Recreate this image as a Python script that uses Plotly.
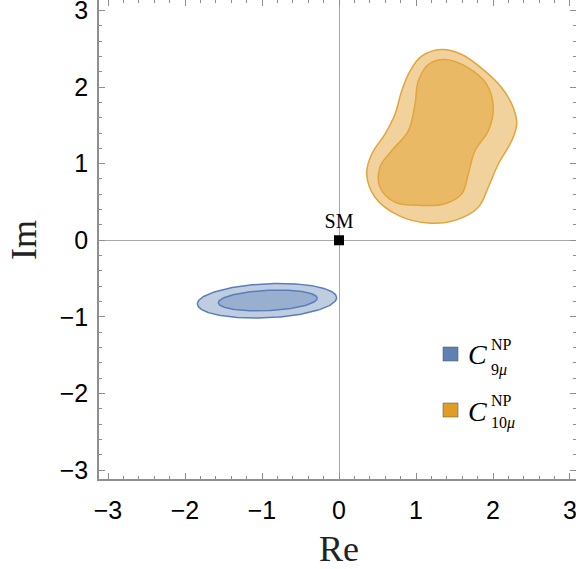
import numpy as np
import plotly.graph_objects as go

# ---- data ----
# C10mu: outer (lighter) and inner (darker) contour boundary points
c10_outer_re = [1.334, 1.594, 1.896, 2.113, 2.264, 2.308, 2.243, 2.069, 1.939, 1.809,
                1.506, 1.160, 0.770, 0.468, 0.360, 0.425, 0.597, 0.727, 0.814, 0.922, 1.074]
c10_outer_im = [2.490, 2.425, 2.208, 1.991, 1.731, 1.516, 1.299, 0.996, 0.692, 0.432,
                0.260, 0.225, 0.325, 0.562, 0.866, 1.126, 1.386, 1.645, 1.948, 2.208, 2.403]
c10_inner_re = [1.377, 1.679, 1.918, 2.004, 1.939, 1.766, 1.679, 1.594, 1.377, 1.074,
                0.727, 0.532, 0.532, 0.684, 0.900, 0.987, 1.030, 1.160]
c10_inner_im = [2.360, 2.251, 2.035, 1.731, 1.429, 1.169, 0.866, 0.606, 0.477, 0.455,
                0.497, 0.692, 0.952, 1.169, 1.429, 1.775, 2.078, 2.295]

# C9mu: confidence ellipses (center re, center im, semi-axis re, semi-axis im, tilt deg)
c9_center_re = [-0.935, -0.925]
c9_center_im = [-0.790, -0.786]
c9_semi_a = [0.905, 0.643]
c9_semi_b = [0.222, 0.133]
c9_tilt_deg = [2.7, 2.7]

sm_point_re = [0.0]
sm_point_im = [0.0]
tick_vals = [-3, -2, -1, 0, 1, 2, 3]

BLUE = "#5E81B5"
ORANGE = "#E19C24"


def ellipse(i):
    t = np.linspace(0, 2 * np.pi, 200)
    th = np.deg2rad(c9_tilt_deg[i])
    a, b = c9_semi_a[i], c9_semi_b[i]
    x = c9_center_re[i] + a * np.cos(t) * np.cos(th) - b * np.sin(t) * np.sin(th)
    y = c9_center_im[i] + a * np.cos(t) * np.sin(th) + b * np.sin(t) * np.cos(th)
    return x, y


def closed(xs, ys):
    return list(xs) + [xs[0]], list(ys) + [ys[0]]


fig = go.Figure()

# C9 ellipses
for i in range(2):
    ex, ey = ellipse(i)
    fig.add_trace(go.Scatter(x=ex, y=ey, mode="lines", fill="toself",
                             fillcolor="rgba(94,129,181,0.40)",
                             line=dict(color="#5a7dbb", width=1.5),
                             hoverinfo="skip", showlegend=False))

# C10 contours
for xs, ys in [(c10_outer_re, c10_outer_im), (c10_inner_re, c10_inner_im)]:
    cx, cy = closed(xs, ys)
    fig.add_trace(go.Scatter(x=cx, y=cy, mode="lines", fill="toself",
                             fillcolor="rgba(225,156,36,0.45)",
                             line=dict(color="#e2a53a", width=1.5, shape="spline", smoothing=1.1),
                             hoverinfo="skip", showlegend=False))

# SM point
fig.add_trace(go.Scatter(x=sm_point_re, y=sm_point_im, mode="markers+text",
                         marker=dict(symbol="square", size=10, color="black"),
                         text=["SM"], textposition="top center",
                         textfont=dict(family="Liberation Serif", size=20, color="black"),
                         hoverinfo="skip", showlegend=False))

FRAME = "#8f8f8f"
axis_common = dict(
    showgrid=False, zeroline=True, zerolinecolor="#a8a8a8", zerolinewidth=1,
    showline=True, linecolor=FRAME, linewidth=1.5, mirror="ticks",
    ticks="inside", ticklen=6, tickwidth=1, tickcolor=FRAME,
    tickvals=tick_vals, automargin=False, ticklabeloverflow="allow",
    tickfont=dict(family="Liberation Sans", size=25, color="black"),
    minor=dict(ticks="inside", ticklen=3.5, tickwidth=1, tickcolor=FRAME, dtick=0.2, showgrid=False),
)

fig.update_xaxes(range=[-3.117, 3.078], ticklabelstandoff=8, **axis_common)
fig.update_yaxes(range=[-3.117, 3.137], ticklabelstandoff=4, **axis_common)

W, H = 576, 569
L, R, T, B = 99, 0, 0, 90
pw, ph = W - L - R, H - T - B


def px(xp):
    return (xp - L) / pw


def py(yp):
    return (H - B - yp) / ph


shapes = []
annotations = []
# legend
for color, top, bot in [(BLUE, 347, 361), (ORANGE, 403, 417)]:
    shapes.append(dict(type="rect", xref="paper", yref="paper",
                       x0=px(443), x1=px(458), y0=py(bot), y1=py(top),
                       fillcolor=color, line=dict(color="rgba(90,90,90,0.55)", width=1)))

SERIF = "Liberation Serif"
for cy, supy, suby, sub in [(354, 344, 370, "9<i>μ</i>"), (411, 400, 423, "10<i>μ</i>")]:
    annotations.append(dict(xref="paper", yref="paper", x=px(466), y=py(cy),
                            xanchor="left", yanchor="middle", showarrow=False,
                            text="<i>C</i>", font=dict(family=SERIF, size=28, color="black")))
    annotations.append(dict(xref="paper", yref="paper", x=px(489), y=py(supy),
                            xanchor="left", yanchor="middle", showarrow=False,
                            text="NP", font=dict(family=SERIF, size=16, color="black")))
    annotations.append(dict(xref="paper", yref="paper", x=px(489), y=py(suby),
                            xanchor="left", yanchor="middle", showarrow=False,
                            text=sub, font=dict(family=SERIF, size=16, color="black")))

# axis titles
annotations.append(dict(xref="paper", yref="paper", x=px(339), y=py(549),
                        xanchor="center", yanchor="middle", showarrow=False,
                        text="Re", font=dict(family=SERIF, size=36, color="#222")))
annotations.append(dict(xref="paper", yref="paper", x=px(24), y=py(240),
                        xanchor="center", yanchor="middle", showarrow=False, textangle=-90,
                        text="Im", font=dict(family=SERIF, size=36, color="#222")))

fig.update_layout(
    width=W, height=H,
    margin=dict(l=L, r=R, t=T, b=B, pad=0, autoexpand=False),
    paper_bgcolor="white", plot_bgcolor="white",
    shapes=shapes, annotations=annotations,
    showlegend=False,
)

fig.write_html("out.html", config={"displayModeBar": False},
               post_script="document.body.style.margin='0';document.body.style.overflow='hidden';")
